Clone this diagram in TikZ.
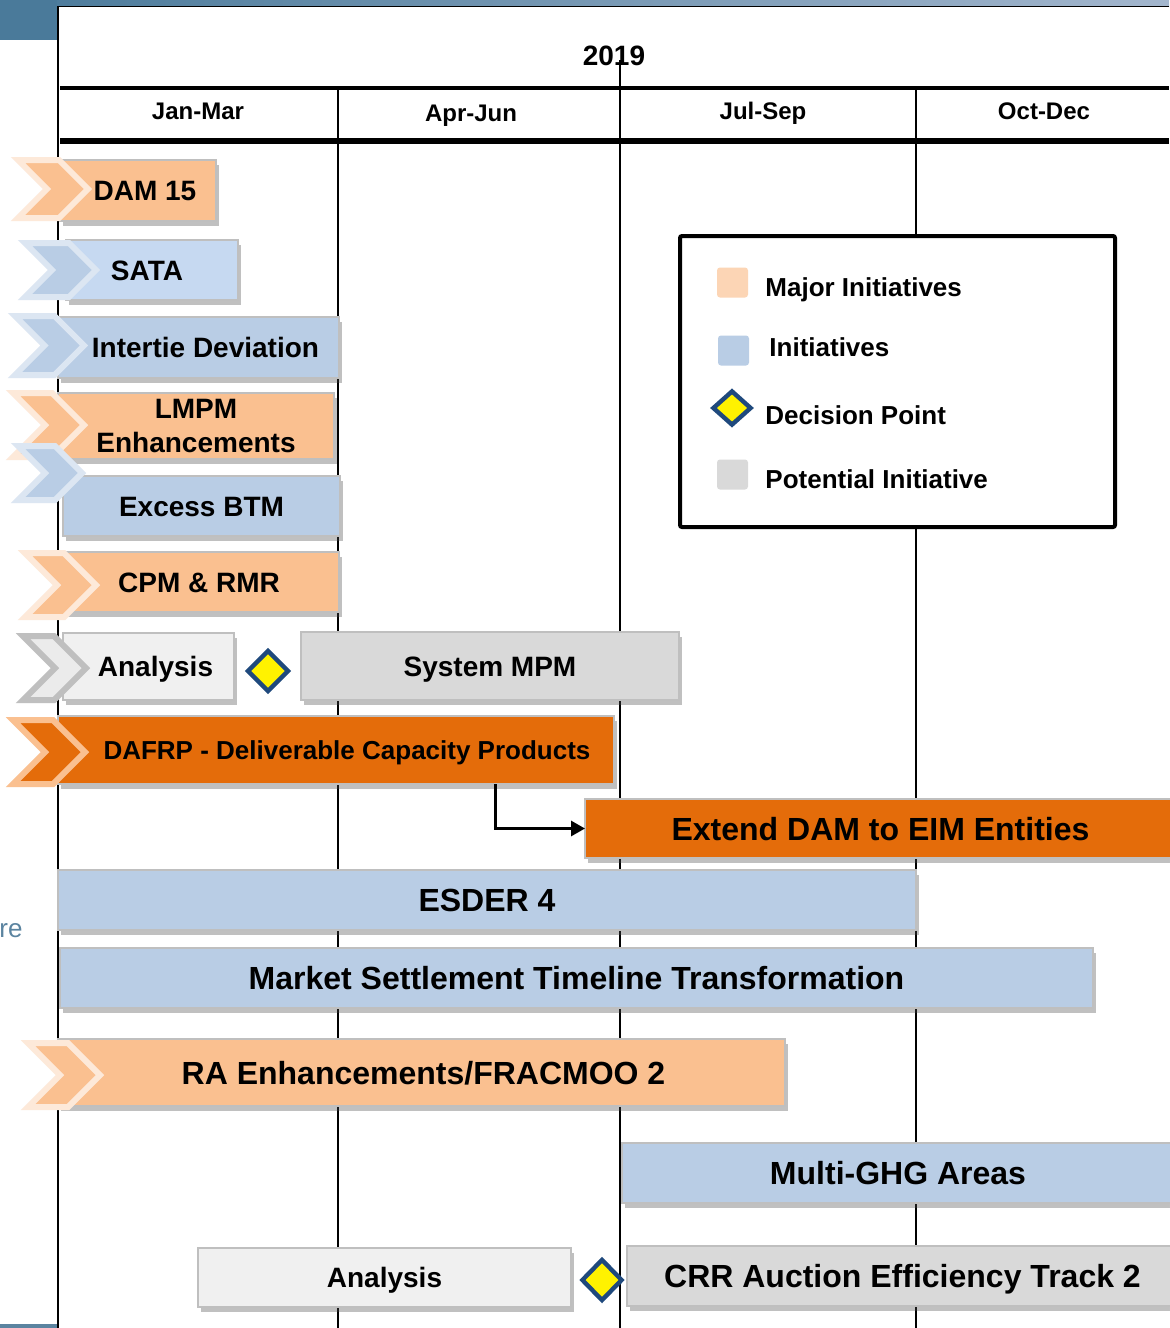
\documentclass[tikz,border=0pt]{standalone}
\usepackage{fontspec}
\setmainfont{Liberation Sans}
\usetikzlibrary{shapes.geometric,shadows,arrows.meta}
\definecolor{peachc}{HTML}{FAC090}
\definecolor{peachline}{HTML}{FDE9D9}
\definecolor{bluec}{HTML}{B9CDE5}
\definecolor{satac}{HTML}{C6D9F1}
\definecolor{blueline}{HTML}{DCE6F2}
\definecolor{darkor}{HTML}{E46C0A}
\definecolor{lgray}{HTML}{F0F0F0}
\definecolor{mgray}{HTML}{D9D9D9}
\definecolor{chevgray}{HTML}{BFBFBF}
\definecolor{chevfill}{HTML}{EBEBEB}
\definecolor{bordergray}{HTML}{BFBFBF}
\definecolor{dpblue}{HTML}{1F497D}
\definecolor{legpeach}{HTML}{FCD5B5}
\definecolor{topblue}{HTML}{4A7A9A}
\definecolor{topblue2}{HTML}{A3B6CD}
\definecolor{retext}{HTML}{5B84A0}

\newcommand\gbar[8]{\node[bar,#6,anchor=north west,minimum width={(#4-#2)*0.5pt},minimum height={(#5-#3)*0.5pt}] (#1) at (#2,#3) {\hspace*{#7pt}#8};}
\newcommand\chev[5]{%
 \pgfmathsetmacro\chvL{#1+3}\pgfmathsetmacro\chvT{#2+3}\pgfmathsetmacro\chvB{#3-3}%
 \pgfmathsetmacro\chvP{#4-4}\pgfmathsetmacro\chvH{(\chvB-\chvT)/2}\pgfmathsetmacro\chvM{(\chvB+\chvT)/2}%
 \pgfmathsetmacro\chvC{\chvP-\chvH}\pgfmathsetmacro\chvN{\chvL+\chvH}%
 \draw[#5] (\chvL,\chvT) -- (\chvC,\chvT) -- (\chvP,\chvM) -- (\chvC,\chvB) -- (\chvL,\chvB) -- (\chvN,\chvM) -- cycle;}

\begin{document}
\begin{tikzpicture}[x=0.5pt,y=-0.5pt,
  bar/.style={draw=bordergray, line width=1pt, inner sep=0pt, outer sep=0pt, text depth=0pt,
    drop shadow={shadow xshift=1.5pt, shadow yshift=-2.5pt, opacity=0.35, fill=black!70}},
  pk/.style={fill=peachc}, bl/.style={fill=bluec}, sa/.style={fill=satac},
  dk/.style={fill=darkor}, lg/.style={fill=lgray}, mg/.style={fill=mgray},
  f24/.style={font=\fontsize{12pt}{14pt}\selectfont\bfseries, text height=8.64pt},
  f26/.style={font=\fontsize{13pt}{15pt}\selectfont\bfseries, text height=9.36pt},
  f28/.style={font=\fontsize{14pt}{17pt}\selectfont\bfseries, text height=10.08pt},
  f32/.style={font=\fontsize{16pt}{19pt}\selectfont\bfseries, text height=11.52pt},
  capc/.style={inner sep=0pt, text depth=0pt},
  pchev/.style={fill=peachc, draw=peachline, line width=3pt},
  bchev/.style={fill=bluec, draw=blueline, line width=3pt},
  gchev/.style={fill=chevfill, draw=chevgray, line width=3pt},
  dchev/.style={fill=darkor, draw=peachc, line width=3pt},
  decpt/.style={diamond, draw=dpblue, fill=yellow, line width=2.2pt, inner sep=0pt, minimum width=21pt, minimum height=21pt},
  vline/.style={line width=1.2pt},
  legsq/.style={fill, rounded corners=1.5pt, minimum width=15.5pt, minimum height=15pt, inner sep=0pt},
  legtxt/.style={f26, capc, anchor=west},
  conn/.style={line width=1.5pt, -{Triangle[length=7pt,width=7.5pt]}}]
\useasboundingbox (0,0) rectangle (1169,1328);
\fill[white] (0,0) rectangle (1169,1328);
% page decoration
\shade[left color=topblue, right color=topblue2] (0,0) rectangle (1169,6);
\fill[topblue] (0,0) rectangle (57,40);
\fill[retext] (0,1324) rectangle (57,1328);
\node[anchor=base east, inner sep=0pt, text=retext, font=\fontsize{13pt}{15pt}\selectfont] (retxt) at (23,937) {re};
\draw[line width=0.8pt] (58,1328) -- (58,6.5) -- (1169,6.5);
% header
\node[f28, capc] (year) at (614,55) {2019};
\draw[line width=1.75pt] (60,88) -- (1169,88);
\draw[line width=2.75pt] (60,141) -- (1169,141);
\draw[vline] (338,88) -- (338,1328);
\draw[vline] (620,60) -- (620,1328);
\draw[vline] (916,88) -- (916,1328);
\node[f24, capc] (q1) at (198,111) {Jan-Mar};
\node[f24, capc] (q2) at (471,113) {Apr-Jun};
\node[f24, capc] (q3) at (763,111) {Jul-Sep};
\node[f24, capc] (q4) at (1044,111) {Oct-Dec};
% legend
\node[draw, line width=2pt, fill=white, rounded corners=1pt, anchor=north west, inner sep=0pt, outer sep=0pt,
  minimum width=217.5pt, minimum height=145.5pt] (legend) at (680,236) {};
\node[legsq, fill=legpeach] (lg1) at (732.5,282.5) {};
\node[legtxt] (lt1) at (765,287) {Major Initiatives};
\node[legsq, fill=bluec] (lg2) at (733.5,350.5) {};
\node[legtxt] (lt2) at (769,347) {Initiatives};
\node[decpt, minimum width=19.5pt, minimum height=17.5pt] (lg3) at (732,408) {};
\node[legtxt] (lt3) at (765,415) {Decision Point};
\node[legsq, fill=mgray] (lg4) at (732.5,474.5) {};
\node[legtxt] (lt4) at (765,479) {Potential Initiative};
% bars
\gbar{dam}{60}{160}{216}{221}{pk,f28}{7}{DAM 15}
\gbar{sata}{66}{240}{238}{300}{sa,f28}{-5}{SATA}
\gbar{intertie}{58}{317}{339}{378}{bl,f28}{7}{Intertie Deviation}
\node[draw=bordergray, line width=1pt, inner sep=0pt, outer sep=0pt, pk, font=\fontsize{14pt}{17pt}\selectfont\bfseries, align=center,
  drop shadow={shadow xshift=1.5pt, shadow yshift=-2.5pt, opacity=0.35, fill=black!70},
  anchor=north west, minimum width=138pt, minimum height=33pt] (lmpm) at (58,393) {LMPM\\Enhancements};
\gbar{excess}{63}{476}{340}{536}{bl,f28}{0}{Excess BTM}
\gbar{cpm}{63}{552}{339}{612}{pk,f28}{-2}{CPM \& RMR}
\gbar{anal1}{63}{633}{234}{700}{lg,f28}{7}{Analysis}
\gbar{sysmpm}{301}{632}{679}{700}{mg,f28}{0}{System MPM}
\gbar{dafrp}{58}{716}{614}{784}{dk,f26}{11}{DAFRP - Deliverable Capacity Products}
\gbar{extend}{585}{799}{1180}{858}{dk,f32}{-2}{Extend DAM to EIM Entities}
\gbar{esder}{58}{870}{916}{930}{bl,f32}{0}{ESDER 4}
\gbar{market}{60}{948}{1093}{1008}{bl,f32}{0}{Market Settlement Timeline Transformation}
\gbar{ra}{58}{1039}{785}{1106}{pk,f32}{2}{RA Enhancements/FRACMOO 2}
\gbar{ghg}{622}{1143}{1180}{1203}{bl,f32}{-3}{Multi-GHG Areas}
\gbar{anal2}{198}{1248}{571}{1307}{lg,f28}{0}{Analysis}
\gbar{crr}{627}{1246}{1180}{1306}{mg,f32}{-1}{CRR Auction Efficiency Track 2}
% chevrons
\chev{15}{157}{221}{92}{pchev}
\chev{22}{240}{300}{100}{bchev}
\chev{12}{313}{378}{88}{bchev}
\chev{10}{390}{460}{88}{pchev}
\chev{15}{443}{503}{86}{bchev}
\chev{22}{550}{620}{100}{pchev}
\chev{20}{633}{703}{90}{gchev}
\chev{10}{717}{787}{89}{dchev}
\chev{25}{1040}{1110}{104}{pchev}
% decision points
\node[decpt] (dp1) at (268,671) {};
\node[decpt, minimum width=20.5pt, minimum height=21pt] (dp2) at (602,1280) {};
% connector
\draw[conn] ([xshift=218.5pt]dafrp.south west) |- (extend.west);
\end{tikzpicture}
\end{document}
